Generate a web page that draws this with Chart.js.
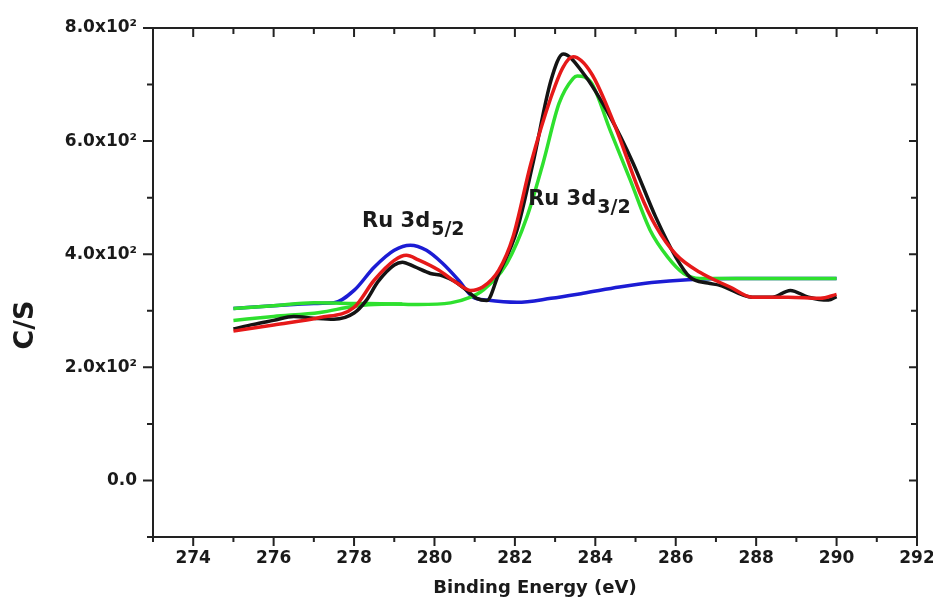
<!DOCTYPE html>
<html>
<head>
<meta charset="utf-8">
<script src="https://cdn.jsdelivr.net/npm/chart.js@4.4.1/dist/chart.umd.min.js"></script>
<style>
  html, body { margin: 0; padding: 0; background: #fff; }
  #wrap { width: 933px; height: 603px; }
</style>
</head>
<body>
<div id="wrap"><canvas id="xpsChart"></canvas></div>
<script>
// axis ticks
const xTicks = [274, 276, 278, 280, 282, 284, 286, 288, 290, 292];
const xMinor = [273, 275, 277, 279, 281, 283, 285, 287, 289, 291];
const yTicks = [0, 200, 400, 600, 800];
const yTickLabels = ["0.0", "2.0x10\u00b2", "4.0x10\u00b2", "6.0x10\u00b2", "8.0x10\u00b2"];
const yMinor = [-100, 100, 300, 500, 700];

// measured spectrum (black)
const rawX = [275, 275.5, 276, 276.5, 277, 277.5, 278, 278.3, 278.6, 279, 279.2, 279.5, 279.9, 280.2, 280.5, 280.8, 281.05, 281.3, 281.6, 282.05, 282.45, 282.9, 283.2, 283.7, 284.37, 284.94, 285.5, 286.0, 286.36, 286.8, 287.1, 287.9, 288.4, 288.85, 289.3, 289.8, 290];
const rawY = [268, 276, 283, 290, 287, 285, 296, 318, 352, 381, 386, 378, 366, 362, 352, 336, 322, 318, 366, 442, 561, 708, 754, 720, 643, 561, 466, 395, 359, 349, 345, 324, 324, 336, 324, 319, 325];

// fit envelope (red)
const fitX = [275, 276, 277.15, 278, 278.5, 279.0, 279.3, 279.6, 280.1, 280.56, 280.9, 281.2, 281.6, 281.95, 282.4, 282.9, 283.2, 283.45, 283.9, 284.5, 285.1, 285.5, 286.0, 286.6, 287.35, 287.9, 288.8, 289.6, 290];
const fitY = [264, 275, 288, 306, 354, 389, 398, 390, 372, 349, 336, 342, 372, 430, 561, 678, 731, 749, 720, 625, 510, 450, 400, 368, 342, 324, 324, 322, 329];

// Ru 3d5/2 component (blue)
const p1X = [275, 276, 277, 277.5, 278, 278.5, 279, 279.4, 279.8, 280.2, 280.6, 280.96, 281.3, 282.05, 282.9, 283.7, 284.6, 285.4, 286.3, 287.5, 290];
const p1Y = [304, 309, 313, 314, 336, 377, 407, 416, 407, 384, 354, 324, 319, 315, 322, 331, 342, 350, 355, 357, 357];

// Ru 3d3/2 component (green)
const p2X = [275, 276, 277, 278, 279, 279.6, 280.4, 280.9, 281.2, 281.8, 282.3, 282.7, 283.1, 283.45, 283.55, 283.9, 284.37, 284.87, 285.36, 285.8, 286.2, 286.6, 287.5, 290];
const p2Y = [304, 309, 314, 313, 312, 311, 314, 324, 336, 384, 466, 561, 667, 711, 715, 703, 619, 531, 443, 395, 366, 357, 357, 357];

// second green line at low energy
const bgX = [275, 276, 277.15, 278, 278.5, 279.2];
const bgY = [283, 290, 297, 308, 311, 312];

const peakLabels = [
    { main: "Ru 3d", sub: "5/2", x: 278.2, y: 448 },
    { main: "Ru 3d", sub: "3/2", x: 282.33, y: 487 }
];

const FONT = "'DejaVu Sans', 'Liberation Sans', sans-serif";
const AXIS = "#222";

function toPoints(xs, ys) {
    return xs.map((x, i) => ({ x: x, y: ys[i] }));
}

function line(label, xs, ys, color) {
    return {
        label: label,
        data: toPoints(xs, ys),
        borderColor: color,
        borderWidth: 3.5,
        pointRadius: 0,
        fill: false,
        cubicInterpolationMode: "monotone"
    };
}

// tick marks on all four sides (major + minor)
const frameTicks = {
    id: "frameTicks",
    afterDraw(chart) {
        const { ctx, chartArea: a, scales } = chart;
        const xs = scales.x, ys = scales.y;
        ctx.save();
        ctx.strokeStyle = AXIS;
        ctx.lineWidth = 2;
        ctx.beginPath();
        xTicks.forEach(v => {
            const p = xs.getPixelForValue(v);
            ctx.moveTo(p, a.bottom); ctx.lineTo(p, a.bottom + 9);
            ctx.moveTo(p, a.top); ctx.lineTo(p, a.top + 9);
        });
        xMinor.forEach(v => {
            const p = xs.getPixelForValue(v);
            ctx.moveTo(p, a.bottom); ctx.lineTo(p, a.bottom + 5);
            ctx.moveTo(p, a.top); ctx.lineTo(p, a.top + 6);
        });
        yTicks.forEach(v => {
            const p = ys.getPixelForValue(v);
            ctx.moveTo(a.left, p); ctx.lineTo(a.left - 10, p);
            ctx.moveTo(a.right, p); ctx.lineTo(a.right - 8, p);
        });
        yMinor.forEach(v => {
            const p = ys.getPixelForValue(v);
            ctx.moveTo(a.left, p); ctx.lineTo(a.left - 6, p);
            ctx.moveTo(a.right, p); ctx.lineTo(a.right - 6, p);
        });
        ctx.stroke();

        // y axis title
        ctx.fillStyle = "#1a1a1a";
        ctx.translate(26, 325);
        ctx.rotate(-Math.PI / 2);
        ctx.textAlign = "center";
        ctx.textBaseline = "middle";
        ctx.font = "bold 27px " + FONT;
        ctx.fillText("C/S", 0, 0);
        ctx.restore();
    }
};

const peakText = {
    id: "peakText",
    afterDatasetsDraw(chart) {
        const { ctx, scales } = chart;
        ctx.save();
        ctx.fillStyle = "#1a1a1a";
        ctx.textBaseline = "alphabetic";
        ctx.textAlign = "left";
        peakLabels.forEach(l => {
            const px = scales.x.getPixelForValue(l.x);
            const py = scales.y.getPixelForValue(l.y);
            ctx.font = "bold 21px " + FONT;
            ctx.fillText(l.main, px, py);
            const w = ctx.measureText(l.main).width;
            ctx.font = "bold 19px " + FONT;
            ctx.fillText(l.sub, px + w + 1, py + 8);
        });
        ctx.restore();
    }
};

const tickFont = { family: FONT, size: 17, weight: "bold" };

new Chart(document.getElementById("xpsChart"), {
    type: "line",
    data: {
        datasets: [
            line("Fit", fitX, fitY, "#e61919"),
            line("Data", rawX, rawY, "#141414"),
            line("Ru 3d3/2", p2X, p2Y, "#2ee02e"),
            line("Background", bgX, bgY, "#2ee02e"),
            line("Ru 3d5/2", p1X, p1Y, "#1c1cd4")
        ]
    },
    options: {
        responsive: true,
        maintainAspectRatio: false,
        animation: false,
        layout: { padding: 0 },
        plugins: { legend: { display: false }, tooltip: { enabled: false } },
        scales: {
            x: {
                type: "linear",
                position: "bottom",
                min: 273,
                max: 292,
                afterBuildTicks: s => { s.ticks = xTicks.map(v => ({ value: v })); },
                afterFit: s => { s.height = 66; s.paddingLeft = 0; s.paddingRight = 0; },
                ticks: { color: "#1a1a1a", font: tickFont, padding: 11, maxRotation: 0, autoSkip: false },
                grid: { display: false, drawTicks: false },
                border: { display: true, width: 2, color: AXIS },
                title: {
                    display: true,
                    text: "Binding Energy (eV)",
                    color: "#1a1a1a",
                    font: { family: FONT, size: 18, weight: "bold" },
                    padding: { top: 0, bottom: 4 }
                }
            },
            y: {
                type: "linear",
                position: "left",
                min: -100,
                max: 800,
                afterBuildTicks: s => { s.ticks = yTicks.map(v => ({ value: v })); },
                afterFit: s => { s.width = 153; },
                ticks: {
                    color: "#1a1a1a",
                    font: tickFont,
                    padding: 16,
                    callback: v => yTickLabels[yTicks.indexOf(v)]
                },
                grid: { display: false, drawTicks: false },
                border: { display: true, width: 2, color: AXIS }
            },
            x2: {
                type: "linear",
                position: "top",
                min: 273,
                max: 292,
                ticks: { display: false },
                grid: { display: false, drawTicks: false },
                border: { display: true, width: 2, color: AXIS },
                afterFit: s => { s.height = 28; }
            },
            y2: {
                type: "linear",
                position: "right",
                min: -100,
                max: 800,
                ticks: { display: false },
                grid: { display: false, drawTicks: false },
                border: { display: true, width: 2, color: AXIS },
                afterFit: s => { s.width = 16; }
            }
        }
    },
    plugins: [frameTicks, peakText]
});
</script>
</body>
</html>
